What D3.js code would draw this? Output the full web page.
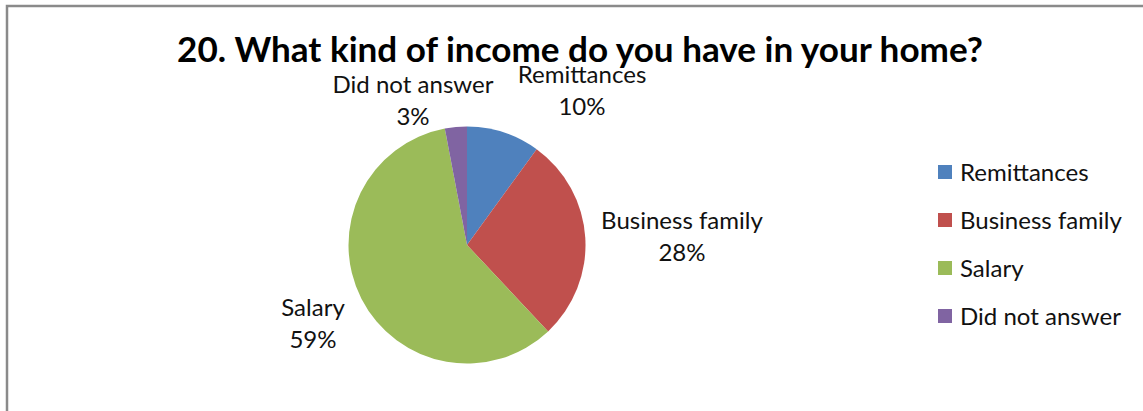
<!DOCTYPE html>
<html><head><meta charset="utf-8">
<script src="https://cdn.jsdelivr.net/npm/d3@7"></script>
<style>html,body{margin:0;padding:0;background:#fff;}svg{display:block;}</style>
</head><body>
<svg id="chart" width="1143" height="411"></svg>
<script>
const title = "20. What kind of income do you have in your home?";
const categories = ["Remittances", "Business family", "Salary", "Did not answer"];
const values = [10, 28, 59, 3];
const colors = ["#4F81BD", "#C0504D", "#9BBB59", "#8064A2"];
// label anchor positions (centers), layout only
const labelPos = [[582, 83], [682, 229], [313, 316], [413, 93]];

const svg = d3.select("#chart");
const font = "Lato, 'Open Sans', sans-serif";

// frame
svg.append("rect").attr("x", 7).attr("y", 6).attr("width", 1200).attr("height", 500)
  .attr("fill", "none").attr("stroke", "#8a8a8a").attr("stroke-width", 2.5);

// title
const t = svg.append("text").attr("x", 580).attr("y", 62).attr("text-anchor", "middle")
  .attr("font-family", font).attr("font-weight", "bold").attr("font-size", 30)
  .attr("fill", "#000").text(title);
const tw = t.node().getComputedTextLength();
t.attr("font-size", 30 * 806 / tw);

// measure base label size
const probe = svg.append("text").attr("font-family", font).attr("font-size", 20).text("Did not answer");
const fs = 20 * 161 / probe.node().getComputedTextLength();
probe.remove();

const total = d3.sum(values);
const pie = d3.pie().sort(null).value(d => d)(values);
const arc = d3.arc().innerRadius(0).outerRadius(118.5);
const g = svg.append("g").attr("transform", "translate(467,245)");
g.selectAll("path").data(pie).join("path").attr("d", arc).attr("fill", (d, i) => colors[i]);

// data labels
const lab = svg.append("g").attr("font-family", font).attr("font-size", fs).attr("fill", "#111").attr("text-anchor", "middle");
pie.forEach((d, i) => {
  const [x, y] = labelPos[i];
  lab.append("text").attr("x", x).attr("y", y).text(categories[i]);
  lab.append("text").attr("x", x).attr("y", y + 32).text(d3.format(".0%")(values[i] / total));
});

// legend
const leg = svg.append("g").attr("font-family", font).attr("font-size", fs).attr("fill", "#111");
categories.forEach((c, i) => {
  const y = 181 + i * 48;
  leg.append("rect").attr("x", 938).attr("y", y - 16).attr("width", 14).attr("height", 14).attr("fill", colors[i]);
  leg.append("text").attr("x", 960).attr("y", y).text(c);
});
</script>
</body></html>
